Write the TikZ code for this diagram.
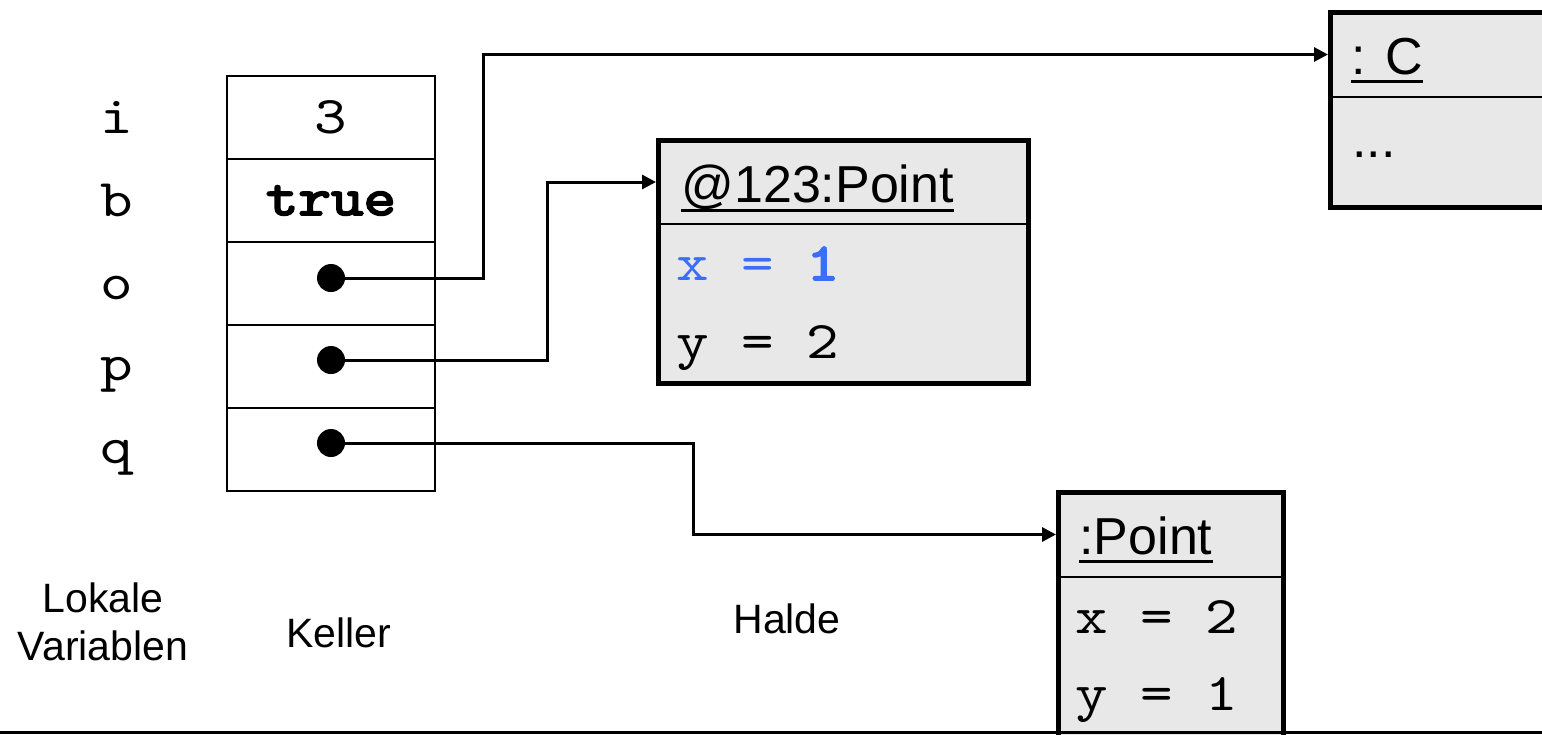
\documentclass[tikz,border=0pt]{standalone}
\usepackage{fontspec}
\setmainfont{Liberation Sans}
\setmonofont{lmmono10-regular.otf}[FakeStretch=1.17, BoldFont=lmmono10-regular.otf, BoldFeatures={FakeBold=3.5}]
\usetikzlibrary{arrows.meta}
\definecolor{boxgray}{RGB}{232,232,232}
\definecolor{valblue}{RGB}{58,110,245}
\begin{document}
\begin{tikzpicture}[x=0.5pt,y=-0.5pt,
  cell/.style={draw, line width=1pt, minimum width=104pt, minimum height=41.5pt, anchor=north west, inner sep=0pt, outer sep=0pt},
  head/.style={fill=boxgray, anchor=north west, inner sep=0pt, outer sep=0pt, minimum height=42.5pt},
  body/.style={fill=boxgray, anchor=north west, inner sep=0pt, outer sep=0pt},
  border/.style={line width=2.5pt},
  divider/.style={line width=1.2pt},
  uline/.style={line width=1.5pt},
  title/.style={font=\fontsize{26}{30}\selectfont, anchor=base west, inner sep=0pt},
  attr/.style={font=\ttfamily\fontsize{26.5}{30}\selectfont, anchor=base west, inner sep=0pt},
  var/.style={font=\ttfamily\fontsize{26.5}{30}\selectfont, anchor=base, inner sep=0pt},
  dot/.style={circle, fill=black, minimum size=14pt, inner sep=0pt},
  conn/.style={line width=1.5pt, -{Triangle[length=7pt,width=7pt]}, shorten >=1pt},
  caption/.style={font=\fontsize{20.5}{24}\selectfont, anchor=base, inner sep=0pt}
]
\clip (0,0) rectangle (1542,734);

% stack cells
\node[cell] (c1) at (227,76) {};
\node[cell] (c2) at (227,159) {};
\node[cell] (c3) at (227,242) {};
\node[cell] (c4) at (227,325) {};
\node[cell] (c5) at (227,408) {};
\node[var] (v3) at (331,133) {3};
\node[var] (vtrue) at (331,215) {\bfseries true};

% variable names
\node[var] (ni) at (117,133) {i};
\node[var] (nb) at (117,216) {b};
\node[var] (no) at (117,299) {o};
\node[var] (np) at (117,380) {p};
\node[var] (nq) at (117,463) {q};

% dots
\node[dot] (od) at (331,278) {};
\node[dot] (pd) at (331,360) {};
\node[dot] (qd) at (331,443) {};

% object : C
\node[head, minimum width=135pt] (cH) at (1330,12) {};
\node[body, minimum width=135pt, minimum height=55pt] (cB) at (1330,97) {};
\draw[divider] (cH.south west) -- (cH.south east);
\draw[border] (cH.north west) rectangle (cB.south east);
\node[title] (cT) at (1351,74) {: C};
\draw[uline] ([yshift=-3.5pt]cT.base west) -- ([yshift=-3.5pt]cT.base east);
\node[title] (cdots) at (1352,157) {...};

% object @123:Point
\node[head, minimum width=185pt, minimum height=42pt] (pH) at (658,140) {};
\node[body, minimum width=185pt, minimum height=79.5pt] (pB) at (658,224) {};
\draw[divider] (pH.south west) -- (pH.south east);
\draw[border] (pH.north west) rectangle (pB.south east);
\node[title] (pT) at (681,202) {@123:Point};
\draw[uline] ([yshift=-4pt]pT.base west) -- ([yshift=-4pt]pT.base east);
\node[attr, text=valblue] (px) at (676,280) {x = \textbf{1}};
\node[attr] (py) at (676,358) {y = 2};

% object :Point
\node[head, minimum width=112.5pt] (qH) at (1058,492) {};
\node[body, minimum width=112.5pt, minimum height=101.5pt] (qB) at (1058,577) {};
\draw[divider] (qH.south west) -- (qH.south east);
\draw[border] (qH.north west) rectangle (qB.south east);
\node[title] (qT) at (1079,554) {:Point};
\draw[uline] ([yshift=-3.5pt]qT.base west) -- ([yshift=-3.5pt]qT.base east);
\node[attr] (qx) at (1075,633) {x = 2};
\node[attr] (qy) at (1075,710) {y = 1};

% connectors
\coordinate (oj) at (483,0);
\coordinate (pj) at (547,0);
\coordinate (qj) at (693,0);
\draw[conn] (od.center) -- (od.center -| oj) |- (cH.west);
\draw[conn] (pd.center) -- (pd.center -| pj) |- (pH.west);
\draw[conn] (qd.center) -- (qd.center -| qj) |- (qH.west);

% captions
\node[caption] (lv1) at (103,612) {Lokale};
\node[caption] (lv2) at (103,660) {Variablen};
\node[caption] (kel) at (339,647) {Keller};
\node[caption] (hal) at (787,633) {Halde};

% bottom rule
\coordinate (bl) at (0,732.5);
\coordinate (br) at (1542,732.5);
\draw[line width=1.5pt] (bl) -- (br);
\end{tikzpicture}
\end{document}
